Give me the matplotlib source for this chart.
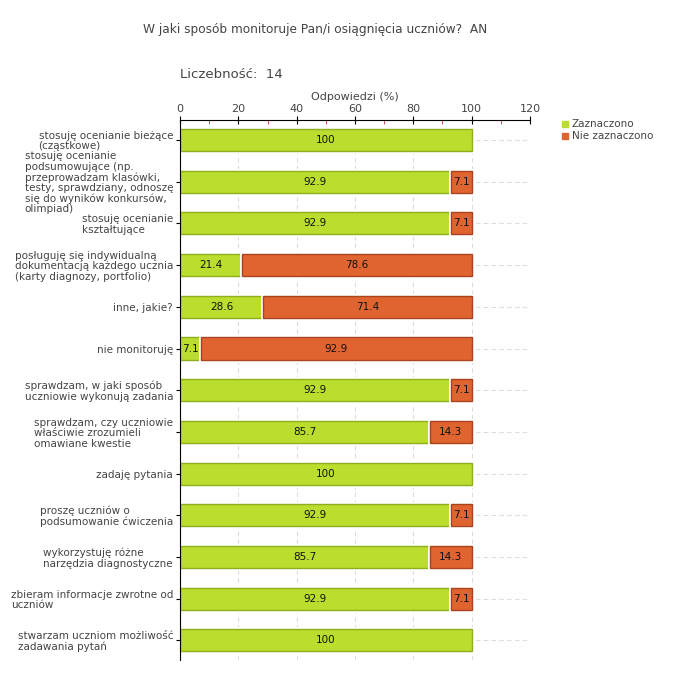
import matplotlib.pyplot as plt
import matplotlib.patheffects as pe
import numpy as np
from matplotlib.lines import Line2D

categories = [
    "stosuję ocenianie bieżące\n(cząstkowe)",
    "stosuję ocenianie\npodsumowujące (np.\nprzeprowadzam klasówki,\ntesty, sprawdziany, odnoszę\nsię do wyników konkursów,\nolimpiad)",
    "stosuję ocenianie\nkształtujące",
    "posługuję się indywidualną\ndokumentacją każdego ucznia\n(karty diagnozy, portfolio)",
    "inne, jakie?",
    "nie monitoruję",
    "sprawdzam, w jaki sposób\nuczniowie wykonują zadania",
    "sprawdzam, czy uczniowie\nwłaściwie zrozumieli\nomawiane kwestie",
    "zadaję pytania",
    "proszę uczniów o\npodsumowanie ćwiczenia",
    "wykorzystuję różne\nnarzędzia diagnostyczne",
    "zbieram informacje zwrotne od\nuczniów",
    "stwarzam uczniom możliwość\nzadawania pytań",
]
zaznaczono = [100, 92.9, 92.9, 21.4, 28.6, 7.1, 92.9, 85.7, 100, 92.9, 85.7, 92.9, 100]
nie_zaznaczono = [0, 7.1, 7.1, 78.6, 71.4, 92.9, 7.1, 14.3, 0, 7.1, 14.3, 7.1, 0]

green = "#bbdd2e"
green_edge = "#8fae1c"
orange = "#e06430"
orange_edge = "#a8431c"
text_gray = "#444444"

fig = plt.figure(figsize=(6.8, 6.8), dpi=100)
ax = fig.add_axes([180 / 680, 20 / 680, 350 / 680, 540 / 680])

y = np.arange(len(categories))
for i in y:
    ax.axhline(i, color="#dddddd", linestyle=(0, (4, 3)), linewidth=0.8, zorder=0)

# white halo around each segment gives the small gap between them
halo = [pe.Stroke(linewidth=3.5, foreground="white"), pe.Normal()]
for i, (g, o) in enumerate(zip(zaznaczono, nie_zaznaczono)):
    b = ax.barh(i, g, height=0.53, color=green, edgecolor=green_edge, linewidth=1, zorder=2)
    b[0].set_path_effects(halo)
    if o > 0:
        b = ax.barh(i, o, left=g, height=0.53, color=orange, edgecolor=orange_edge,
                    linewidth=1, zorder=2)
        b[0].set_path_effects(halo)

for i, (g, o) in enumerate(zip(zaznaczono, nie_zaznaczono)):
    if g > 0:
        ax.text(g / 2, i, f"{g:g}", ha="center", va="center", fontsize=7.5, color="#111111", zorder=3)
    if o > 0:
        ax.text(g + o / 2, i, f"{o:g}", ha="center", va="center", fontsize=7.5, color="#111111", zorder=3)

ax.set_xlim(0, 120)
ax.set_ylim(len(categories) - 0.53, -0.48)
ax.xaxis.tick_top()
ax.xaxis.set_label_position("top")
ax.set_xticks(np.arange(0, 121, 20))
ax.set_xticks(np.arange(10, 120, 20), minor=True)
ax.tick_params(axis="x", which="major", direction="inout", length=6, labelsize=8,
               labelcolor=text_gray, pad=1)
ax.tick_params(axis="x", which="minor", direction="in", length=3, color="#cc3333")
ax.set_xlabel("Odpowiedzi (%)", fontsize=8, color=text_gray, labelpad=3)
ax.grid(axis="x", which="major", color="#dddddd", linestyle=(0, (4, 3)), linewidth=0.8)
ax.set_axisbelow(True)

ax.set_yticks(y)
ax.set_yticklabels(categories, fontsize=7.5, color=text_gray, linespacing=1.05)
for lab in ax.get_yticklabels():
    lab.set_multialignment("left")
ax.tick_params(axis="y", direction="out", length=3, pad=2)
for s in ["right", "bottom"]:
    ax.spines[s].set_visible(False)
ax.spines["left"].set_zorder(4)

fig.text(315 / 680, 1 - 30 / 680, "W jaki sposób monitoruje Pan/i osiągnięcia uczniów?  AN",
         ha="center", va="center", fontsize=8.7, color=text_gray)
fig.text(180 / 680, 1 - 75 / 680, "Liczebność:  14", ha="left", va="center",
         fontsize=9.5, color=text_gray)

handles = [
    Line2D([], [], marker="s", linestyle="none", markersize=5, color=green, label="Zaznaczono"),
    Line2D([], [], marker="s", linestyle="none", markersize=5, color=orange, label="Nie zaznaczono"),
]
fig.legend(handles=handles, loc="upper left", bbox_to_anchor=(555 / 680, 1 - 114 / 680),
           frameon=False, fontsize=7.5, handletextpad=0.1, labelspacing=0.2,
           borderpad=0, handlelength=1, labelcolor=text_gray)

fig.savefig("out.png", dpi=100)
